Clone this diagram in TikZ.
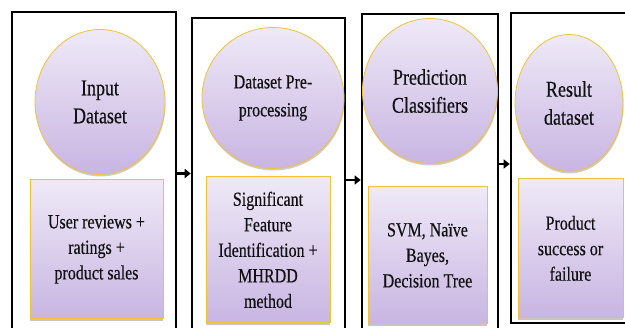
\documentclass[tikz,border=0pt]{standalone}
\usepackage{fontspec}
\setmainfont[FakeStretch=0.8, FakeBold=0.35]{Liberation Serif}
\usetikzlibrary{positioning,shapes.geometric,shadows,arrows.meta}
\definecolor{lilacT}{HTML}{EFE9F7}
\definecolor{lilacB}{HTML}{C8B5E2}
\definecolor{goldB}{HTML}{F2C233}
\definecolor{ink}{HTML}{111111}

\begin{document}
\begin{tikzpicture}[x=1pt, y=-1pt,
    every node/.style={text=ink},
    stage/.style={draw=black, line width=2.6pt, inner sep=0pt},
    head/.style={ellipse, draw=goldB, line width=0.8pt, top color=lilacT, bottom color=lilacB,
                 inner sep=0pt, align=center, font=\fontsize{22.5}{28}\selectfont,
                 drop shadow={shadow xshift=0.5pt, shadow yshift=-2pt, opacity=0.4}},
    body/.style={draw=goldB, line width=0.9pt, top color=lilacT, bottom color=lilacB,
                 inner sep=0pt, align=center, font=\fontsize{20}{25.5}\selectfont,
                 drop shadow={shadow xshift=0pt, shadow yshift=-2.5pt, opacity=0.45}},
    flow/.style={-{Triangle[length=6pt,width=9pt]}, line width=2.4pt},
  ]
  \useasboundingbox (0,0) rectangle (625,328);
  \clip (0,0) rectangle (625,328);

  % the four stage frames
  \node[stage, minimum width=164pt, minimum height=323pt] (input)  at (94,173.5)   {};
  \node[stage, minimum width=153pt, minimum height=317pt] (prep)   at (268.5,176.5) {};
  \node[stage, minimum width=136pt, minimum height=321pt] (pred)   at (430,174.5)  {};
  \node[stage, minimum width=125pt, minimum height=310pt] (result) at (573.5,168)  {};

  % stage titles
  \node[head, minimum width=130pt, minimum height=145pt] (inputh) at (100,102) {Input\\Dataset};
  \node[head, minimum width=142pt, minimum height=141pt, font=\fontsize{20}{28}\selectfont]
        (preph) at (273,98) {Dataset Pre-\\processing};
  \node[head, minimum width=135pt, minimum height=145pt] (predh) at (430,91) {Prediction\\Classifiers};
  \node[head, minimum width=108pt, minimum height=137pt] (resulth) at (569,103) {Result\\dataset};

  % stage contents
  \node[body, below=4.5pt of inputh, xshift=-3.5pt, minimum width=133pt, minimum height=139pt]
        (inputb) {User reviews +\\ratings +\\product sales};
  \node[body, below=7.5pt of preph, xshift=-5pt, minimum width=124pt, minimum height=146pt]
        (prepb) {Significant\\Feature\\Identification +\\MHRDD\\method};
  \node[body, below=22.5pt of predh, xshift=-2.5pt, minimum width=119pt, minimum height=137pt]
        (predb) {SVM, Naïve\\Bayes,\\Decision Tree};
  \node[body, below=6.5pt of resulth, xshift=1.5pt, minimum width=105pt, minimum height=139pt]
        (resultb) {Product\\success or\\failure};

  \draw[flow] (input.east) -- (input.east -| prep.west);
  \draw[flow] ([yshift=-3.5pt]prep.east) -- ([yshift=-3.5pt]prep.east -| pred.west);
  \draw[flow] ([yshift=10.5pt]pred.east) -- ([yshift=10.5pt]pred.east -| result.west);
\end{tikzpicture}
\end{document}
